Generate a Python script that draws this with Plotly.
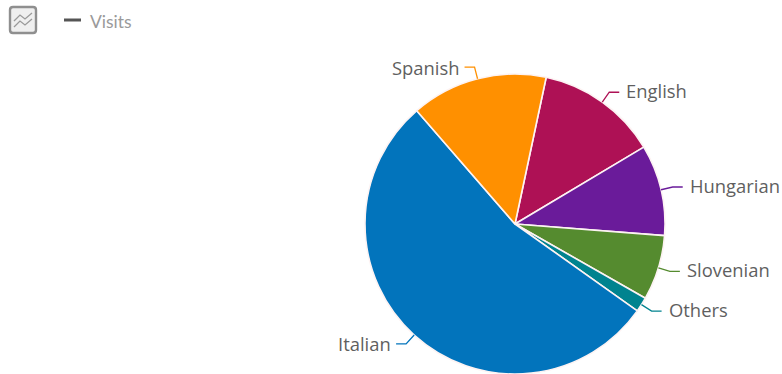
import math
import plotly.graph_objects as go

WIDTH, HEIGHT = 782, 374

languages = ["English", "Hungarian", "Slovenian", "Others", "Italian", "Spanish"]
visits = [13.1, 9.8, 7.0, 1.6, 53.8, 14.7]
colors = ["#AE1155", "#6A1B9A", "#558B2F", "#00838F", "#0274BC", "#FF9000"]

# Pie placement, in pixels from the top-left corner
CENTER_X, CENTER_Y, RADIUS = 515, 224, 150
START_ANGLE = 12
LEADER_OUT = 12
LEADER_RUN = 10
LABEL_GAP_LEFT = 3
LABEL_GAP_RIGHT = 5
LABEL_LIFT_RIGHT = 2
LABEL_COLOR = "#5f5f5f"


def px(x):
    return x / WIDTH


def py(y):
    return 1 - y / HEIGHT


def polar(angle, r):
    a = math.radians(angle)
    return CENTER_X + r * math.sin(a), CENTER_Y - r * math.cos(a)


fig = go.Figure(
    go.Pie(
        labels=languages,
        values=visits,
        sort=False,
        direction="clockwise",
        rotation=START_ANGLE,
        textinfo="none",
        hoverinfo="label+percent",
        marker=dict(colors=colors, line=dict(color="#fdf3f3", width=1.6)),
        domain=dict(
            x=[px(CENTER_X - RADIUS), px(CENTER_X + RADIUS)],
            y=[py(CENTER_Y + RADIUS), py(CENTER_Y - RADIUS)],
        ),
        showlegend=False,
    )
)

shapes = []
annotations = []

# Elbowed leader line and outside label for each slice
total = sum(visits)
cumulative = 0
for name, value, color in zip(languages, visits, colors):
    mid = START_ANGLE + (cumulative + value / 2) / total * 360
    cumulative += value
    x0, y0 = polar(mid, RADIUS)
    x1, y1 = polar(mid, RADIUS + LEADER_OUT)
    right_side = math.sin(math.radians(mid)) >= 0
    side = 1 if right_side else -1
    x2 = x1 + side * LEADER_RUN
    shapes.append(
        dict(
            type="path",
            xref="paper",
            yref="paper",
            path=f"M {px(x0)} {py(y0)} L {px(x1)} {py(y1)} L {px(x2)} {py(y1)}",
            line=dict(color=color, width=1.3),
        )
    )
    annotations.append(
        dict(
            text=name,
            xref="paper",
            yref="paper",
            x=px(x2 + side * (LABEL_GAP_RIGHT if right_side else LABEL_GAP_LEFT)),
            y=py(y1),
            yshift=LABEL_LIFT_RIGHT if right_side else 0,
            xanchor="left" if right_side else "right",
            yanchor="middle",
            showarrow=False,
            font=dict(family="Open Sans", size=18.4, color=LABEL_COLOR),
        )
    )

# Chart-type button in the top-left corner
shapes.append(
    dict(
        type="path",
        xref="paper",
        yref="paper",
        path=(
            f"M {px(13)} {py(7)} L {px(33)} {py(7)} Q {px(36)} {py(7)} {px(36)} {py(10)} "
            f"L {px(36)} {py(30)} Q {px(36)} {py(33)} {px(33)} {py(33)} "
            f"L {px(13)} {py(33)} Q {px(10)} {py(33)} {px(10)} {py(30)} "
            f"L {px(10)} {py(10)} Q {px(10)} {py(7)} {px(13)} {py(7)} Z"
        ),
        fillcolor="#efefef",
        line=dict(color="#8f8f8f", width=2.4),
    )
)
for glyph in (
    [(14, 21), (20, 15), (25, 19), (32, 13)],
    [(14, 27), (20, 21), (25, 25), (32, 19)],
):
    points = " L ".join(f"{px(x)} {py(y)}" for x, y in glyph)
    shapes.append(
        dict(
            type="path",
            xref="paper",
            yref="paper",
            path=f"M {points}",
            line=dict(color="#9a9a9a", width=1.3),
        )
    )

# Legend entry for the single series
shapes.append(
    dict(
        type="line",
        xref="paper",
        yref="paper",
        x0=px(64),
        x1=px(81),
        y0=py(20),
        y1=py(20),
        line=dict(color="#555555", width=3),
    )
)
annotations.append(
    dict(
        text="Visits",
        xref="paper",
        yref="paper",
        x=px(88),
        y=py(21),
        xanchor="left",
        yanchor="middle",
        showarrow=False,
        font=dict(family="Lato", size=17.5, color="#9a9a9a"),
    )
)

fig.update_layout(
    width=WIDTH,
    height=HEIGHT,
    margin=dict(l=0, r=0, t=0, b=0),
    paper_bgcolor="#ffffff",
    plot_bgcolor="#ffffff",
    shapes=shapes,
    annotations=annotations,
)

fig.write_html("out.html", config=dict(displayModeBar=False))
